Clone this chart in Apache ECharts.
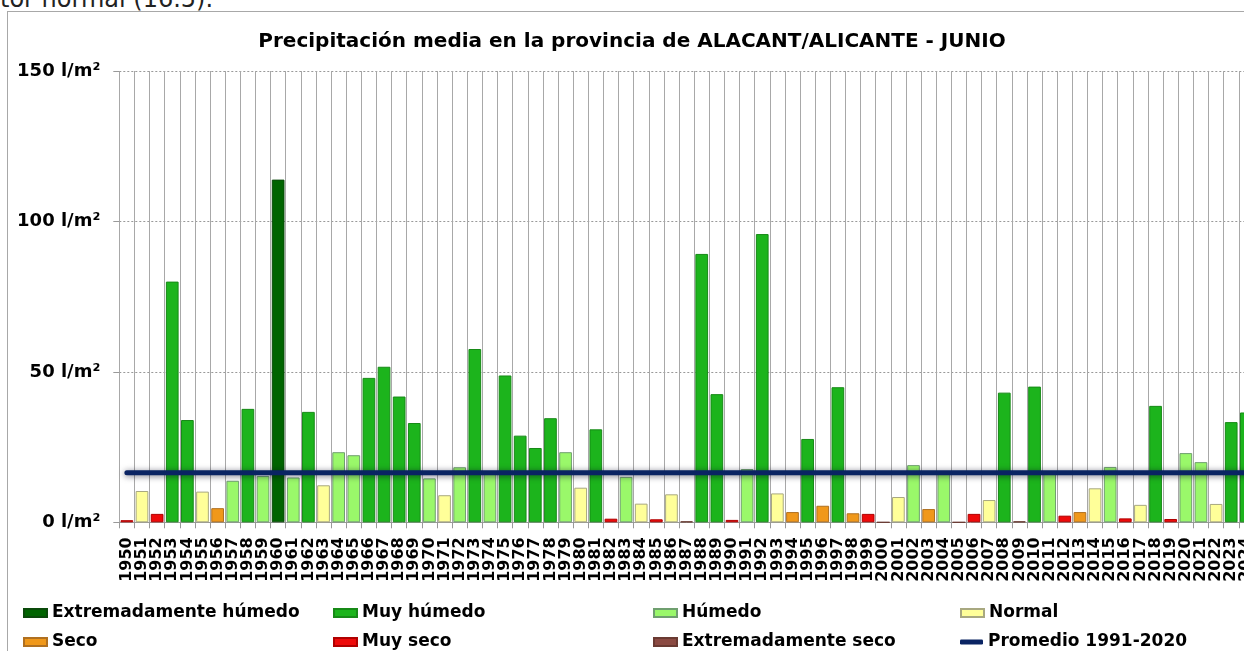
<!DOCTYPE html>
<html>
<head>
<meta charset="utf-8">
<script src="https://cdn.jsdelivr.net/npm/echarts@6/dist/echarts.min.js"></script>
<style>
html,body{margin:0;padding:0;background:#fff;overflow:hidden;width:1244px;height:651px;}
#pre{position:absolute;left:0;top:-13px;font-family:'DejaVu Sans';font-size:24px;line-height:24px;color:#222;white-space:nowrap;}
#frame{position:absolute;left:7px;top:11px;width:1300px;height:700px;border:1px solid #a8a8a8;}
#c{position:absolute;left:8px;top:12px;width:1248px;height:650px;}
</style>
</head>
<body>
<div id="pre">tor normal (16.5).</div>
<div id="frame"></div>
<div id="c"></div>
<script>
// ---- Data ----
const years = [1950,1951,1952,1953,1954,1955,1956,1957,1958,1959,1960,1961,1962,1963,1964,1965,1966,1967,1968,1969,
  1970,1971,1972,1973,1974,1975,1976,1977,1978,1979,1980,1981,1982,1983,1984,1985,1986,1987,1988,1989,
  1990,1991,1992,1993,1994,1995,1996,1997,1998,1999,2000,2001,2002,2003,2004,2005,2006,2007,2008,2009,
  2010,2011,2012,2013,2014,2015,2016,2017,2018,2019,2020,2021,2022,2023,2024];
const precip = [0.7,10.4,2.8,80.0,34.0,10.2,4.7,13.8,37.7,15.4,113.9,14.9,36.7,12.3,23.3,22.3,48.0,51.7,41.8,33.0,
  14.6,9.0,18.3,57.6,16.8,48.8,28.8,24.7,34.6,23.3,11.5,30.9,1.2,15.1,6.2,1.0,9.3,0.3,89.2,42.6,
  0.8,17.7,95.8,9.6,3.4,27.7,5.5,44.9,3.0,2.8,0,8.4,19.0,4.4,16.3,0,2.8,7.4,43.1,0.3,
  45.1,16.4,2.2,3.4,11.3,18.4,1.3,5.8,38.7,1.1,23.0,20.0,6.1,33.3,36.5];
// 0 Extremadamente húmedo, 1 Muy húmedo, 2 Húmedo, 3 Normal, 4 Seco, 5 Muy seco, 6 Extremadamente seco
const category = [5,3,5,1,1,3,4,2,1,2,0,2,1,3,2,2,1,1,1,1,
  2,3,2,1,2,1,1,1,1,2,3,1,5,2,3,5,3,6,1,1,
  5,2,1,3,4,1,4,1,4,5,6,3,2,4,2,6,5,3,1,6,
  1,2,5,4,3,2,5,3,1,5,2,2,3,1,1];
const classNames = ['Extremadamente húmedo','Muy húmedo','Húmedo','Normal','Seco','Muy seco','Extremadamente seco'];
const promedioName = 'Promedio 1991-2020';
const promedio = 16.5;
const yTicks = [0,50,100,150];
const titleText = 'Precipitación media en la provincia de ALACANT/ALICANTE - JUNIO';

// ---- Styles ----
const fills = ['#006400','#1cb41c','#9af86a','#ffff99','#f0981a','#ee0a0a','#8b4a42'];
const borders = ['#0a4a0a','#178a17','#6f9f6f','#a8a880','#b07020','#b00000','#6a3a32'];
const FONT = 'DejaVu Sans';

const chart = echarts.init(document.getElementById('c'), null, {renderer:'canvas'});

const series = classNames.map((name,k)=>({
  type:'bar', name:name,
  barGap:'-100%', barCategoryGap:'16%',
  data: precip.map((v,i)=> category[i]===k ? v : null),
  itemStyle:{color:fills[k], borderColor:borders[k], borderWidth:1},
  z:2
}));
series.push({
  type:'line', name:promedioName,
  data: years.map(()=>promedio),
  symbol:'none', showSymbol:false,
  lineStyle:{color:'#0a2463', width:5, cap:'round', shadowColor:'rgba(0,0,30,0.55)', shadowBlur:6, shadowOffsetY:1},
  itemStyle:{color:'#0a2463'},
  z:5, silent:true
});

const legendCols = [15,325,645,952];
const legendRows = [591,620];
const legendNames = classNames.concat([promedioName]);
const legends = legendNames.map((name,i)=>{
  const isLine = name===promedioName;
  return {
    data:[isLine ? {name:name, icon:'roundRect', itemStyle:{color:'#0a2463'}} : {name:name, icon:'rect'}],
    left: legendCols[i%4], top: legendRows[Math.floor(i/4)],
    padding:0, itemWidth:23, itemHeight: isLine ? 5 : 8,
    selectedMode:false,
    textStyle:{fontFamily:FONT, fontWeight:'bold', fontSize:17, color:'#000', lineHeight:20}
  };
});

chart.setOption({
  animation:false,
  backgroundColor:'transparent',
  title:{text:titleText, left:'center', top:15,
    textStyle:{fontFamily:FONT, fontWeight:'bold', fontSize:20, color:'#000'}},
  legend: legends,
  grid:{left:111.3, top:59, right:2.1, bottom:139.7, containLabel:false},
  xAxis:{
    type:'category', data:years.map(String), boundaryGap:true,
    axisLine:{show:true, lineStyle:{color:'#999', width:1}},
    axisTick:{show:true, length:6, lineStyle:{color:'#999'}, interval:0},
    axisLabel:{interval:0, rotate:90, margin:15, fontFamily:FONT, fontWeight:'bold', fontSize:16, color:'#000'},
    splitLine:{show:true, interval:0, lineStyle:{color:'#a8a8a8', width:1}}
  },
  yAxis:{
    type:'value', min:yTicks[0], max:yTicks[yTicks.length-1], interval:yTicks[1]-yTicks[0],
    axisLine:{show:false},
    axisTick:{show:true, length:6, lineStyle:{color:'#999'}},
    axisLabel:{margin:19, formatter:'{value} l/m²', fontFamily:FONT, fontWeight:'bold', fontSize:18, color:'#000'},
    splitLine:{show:true, lineStyle:{color:'#999', type:[2,2], width:1}}
  },
  series: series
});
</script>
</body>
</html>
